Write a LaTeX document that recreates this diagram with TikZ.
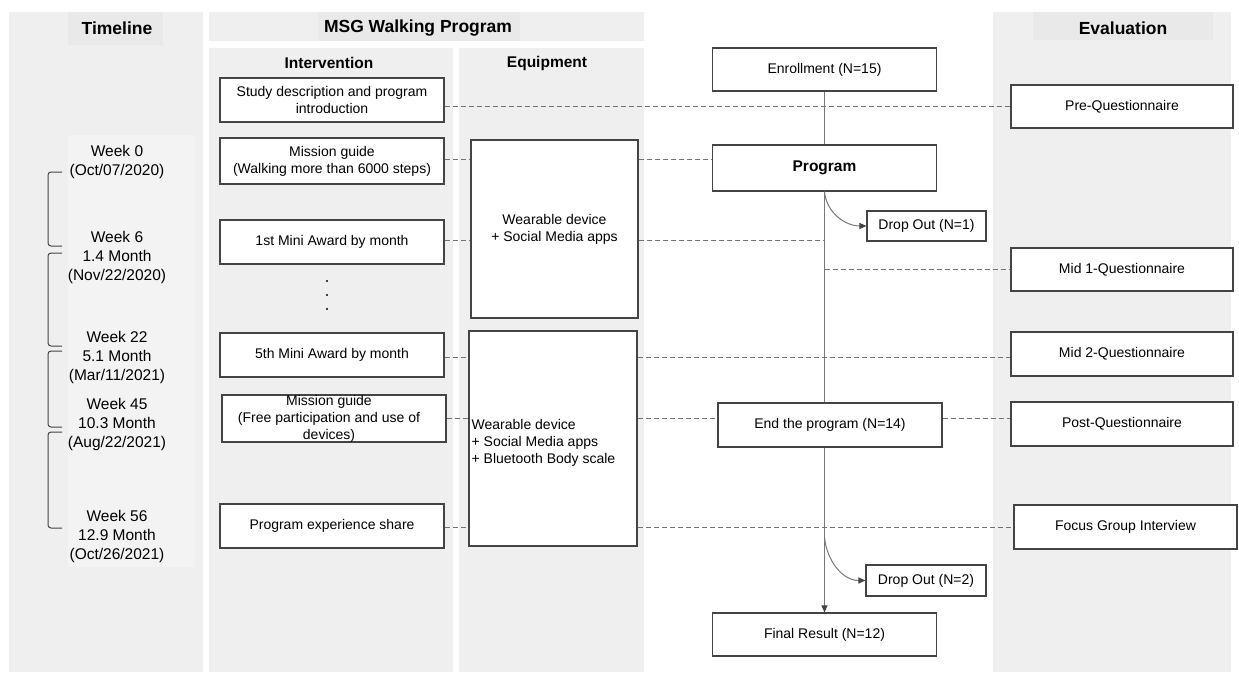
\documentclass[tikz,border=0pt]{standalone}
\usepackage{fontspec}
\setmainfont{Liberation Sans}
\usetikzlibrary{arrows.meta}
\definecolor{bgc}{RGB}{239,239,239}
\definecolor{hdc}{RGB}{233,233,233}
\definecolor{lbc}{RGB}{243,243,243}
\definecolor{bord}{RGB}{68,68,68}
\definecolor{dsh}{RGB}{115,115,115}
\definecolor{spn}{RGB}{120,120,120}
\begin{document}
\begin{tikzpicture}[x=1pt,y=-1pt,
  box/.style={draw=bord, line width=1.1pt, fill=white, inner sep=0pt, align=center,
              font=\fontsize{14}{17}\selectfont},
  txt/.style={inner sep=0pt, align=center, font=\fontsize{14}{17}\selectfont},
  hdr/.style={font=\fontsize{17.5}{20}\selectfont\bfseries, inner sep=0pt},
  subhdr/.style={font=\fontsize{15.5}{18}\selectfont\bfseries, inner sep=0pt},
  tl/.style={align=center, inner sep=0pt, font=\fontsize{15.5}{19}\selectfont},
  dl/.style={draw=dsh, line width=0.9pt, dash pattern=on 5pt off 3pt},
  spine/.style={draw=spn, line width=1pt},
  tip/.style={-{Triangle[length=7pt,width=6pt,color=bord]}},
  brk/.style={draw=bord, line width=1pt, rounded corners=3pt}]
\useasboundingbox (0,0) rectangle (1239,674);
\fill[white] (0,0) rectangle (1239,674);
% backgrounds
\fill[bgc] (9,12) rectangle (203,672);
\fill[hdc] (68,12) rectangle (163,45);
\fill[lbc] (68,135) rectangle (195,567);
\fill[bgc] (209,12) rectangle (644,41);
\fill[hdc] (318,12) rectangle (520,41);
\fill[bgc] (209,48) rectangle (453,672);
\fill[bgc] (459,48) rectangle (644,672);
\fill[bgc] (993,12) rectangle (1231,672);
\fill[hdc] (1033,12) rectangle (1213,40);
% headers
\node[hdr] (hTime) at (117,28) {Timeline};
\node[hdr] (hMSG) at (418,28) {MSG Walking Program};
\node[subhdr] (hInt) at (329,63) {Intervention};
\node[subhdr] (hEq) at (547,63) {Equipment};
\node[hdr] (hEval) at (1123,28) {Evaluation};
% timeline labels
\node[tl] (t0) at (117,161.5) {Week 0\\(Oct/07/2020)};
\node[tl] (t6) at (117,257) {Week 6\\1.4 Month\\(Nov/22/2020)};
\node[tl] (t22) at (117,357) {Week 22\\5.1 Month\\(Mar/11/2021)};
\node[tl] (t45) at (117,424) {Week 45\\10.3 Month\\(Aug/22/2021)};
\node[tl] (t56) at (117,536) {Week 56\\12.9 Month\\(Oct/26/2021)};
% brackets
\draw[brk] (62,172) -- (48,172) -- (48,246) -- (62,246);
\draw[brk] (62,253) -- (48,253) -- (48,346) -- (62,346);
\draw[brk] (62,351) -- (48,351) -- (48,427) -- (62,427);
\draw[brk] (62,432) -- (48,432) -- (48,528) -- (62,528);
% intervention boxes
\node[box, minimum width=224pt, minimum height=44pt] (study) at (332,100) {Study description and program\\introduction};
\node[box, minimum width=224pt, minimum height=46pt] (mg1) at (332,161) {Mission guide\\(Walking more than 6000 steps)};
\node[box, minimum width=224pt, minimum height=44pt] (mini1) at (332,242) {1st Mini Award by month};
\fill[black] (327,281) circle (1.2);
\fill[black] (327,295) circle (1.2);
\fill[black] (327,309) circle (1.2);
\node[box, minimum width=224pt, minimum height=44pt] (mini5) at (332,355) {5th Mini Award by month};
\node[box, minimum width=224pt, minimum height=47pt] (mg2) at (334,418.5) {};
\node[txt] (mg2t) at (329,419) {Mission guide\\(Free participation and use of\\devices)};
\node[box, minimum width=224pt, minimum height=44pt] (share) at (332,526) {Program experience share};
% equipment boxes
\node[box, minimum width=167pt, minimum height=178pt] (wear1) at (554.5,229) {Wearable device\\+ Social Media apps};
\node[box, minimum width=168pt, minimum height=215pt] (wear2) at (553,438.5) {};
\node[txt, anchor=west, align=left] (wear2t) at ([xshift=3pt,yshift=-4pt]wear2.west) {Wearable device\\+ Social Media apps\\+ Bluetooth Body scale};
% flow boxes
\node[box, minimum width=224pt, minimum height=43pt] (enroll) at (824.5,69.5) {Enrollment (N=15)};
\node[box, minimum width=224pt, minimum height=46pt, font=\fontsize{15.5}{18}\selectfont\bfseries] (prog) at (824.5,168) {Program};
\node[box, minimum width=119pt, minimum height=30pt] (drop1) at (926.5,226) {Drop Out (N=1)};
\node[box, minimum width=224pt, minimum height=44pt] (endp) at (830,425) {End the program (N=14)};
\node[box, minimum width=120pt, minimum height=31pt] (drop2) at (926,580.5) {Drop Out (N=2)};
\node[box, minimum width=224pt, minimum height=43pt] (final) at (824.5,634.5) {Final Result (N=12)};
% evaluation boxes
\node[box, minimum width=222pt, minimum height=43pt] (preq) at (1122,106.5) {Pre-Questionnaire};
\node[box, minimum width=222pt, minimum height=43pt] (mid1) at (1122,269.5) {Mid 1-Questionnaire};
\node[box, minimum width=222pt, minimum height=44pt] (mid2) at (1122,354) {Mid 2-Questionnaire};
\node[box, minimum width=222pt, minimum height=44pt] (post) at (1122,424) {Post-Questionnaire};
\node[box, minimum width=223pt, minimum height=44pt] (focus) at (1125.5,527) {Focus Group Interview};
% spine
\draw[spine] (enroll.south) -- (prog.north);
\draw[spine] (prog.south) -- (prog.south |- endp.north);
\draw[spine, tip] (prog.south |- endp.south) -- (final.north);
\coordinate (sp2) at (prog.south |- 0,537);
\draw[spine, tip] (prog.south) to[out=-85,in=180] (drop1.west);
\draw[spine, tip] (sp2) to[out=-85,in=180] (drop2.west);
% dashed links
\draw[dl] (study.east |- preq.west) -- (preq.west);
\draw[dl] ([yshift=1.5pt]mg1.east) -- ([yshift=1.5pt]wear1.west |- mg1.east);
\draw[dl] ([yshift=1.5pt]wear1.east |- mg1.east) -- ([yshift=1.5pt]prog.west |- mg1.east);
\draw[dl] ([yshift=1.5pt]mini1.east) -- ([yshift=1.5pt]wear1.west |- mini1.east);
\draw[dl] ([yshift=1.5pt]wear1.east |- mini1.east) -- ([yshift=1.5pt]prog.south |- mini1.east);
\draw[dl] (prog.south |- mid1.west) -- (mid1.west);
\draw[dl] ([yshift=-2pt]mini5.east) -- ([yshift=-2pt]wear2.west |- mini5.east);
\draw[dl] ([yshift=-2pt]wear2.east |- mini5.east) -- ([yshift=-2pt]mid2.west |- mini5.east);
\draw[dl] (mg2.east) -- (wear2.west |- mg2.east);
\draw[dl] (wear2.east |- mg2.east) -- (endp.west |- mg2.east);
\draw[dl] (endp.east |- mg2.east) -- (post.west |- mg2.east);
\draw[dl] ([yshift=-1.5pt]share.east) -- ([yshift=-1.5pt]wear2.west |- share.east);
\draw[dl] ([yshift=-1.5pt]wear2.east |- share.east) -- ([yshift=-1.5pt]focus.west |- share.east);
\end{tikzpicture}
\end{document}
